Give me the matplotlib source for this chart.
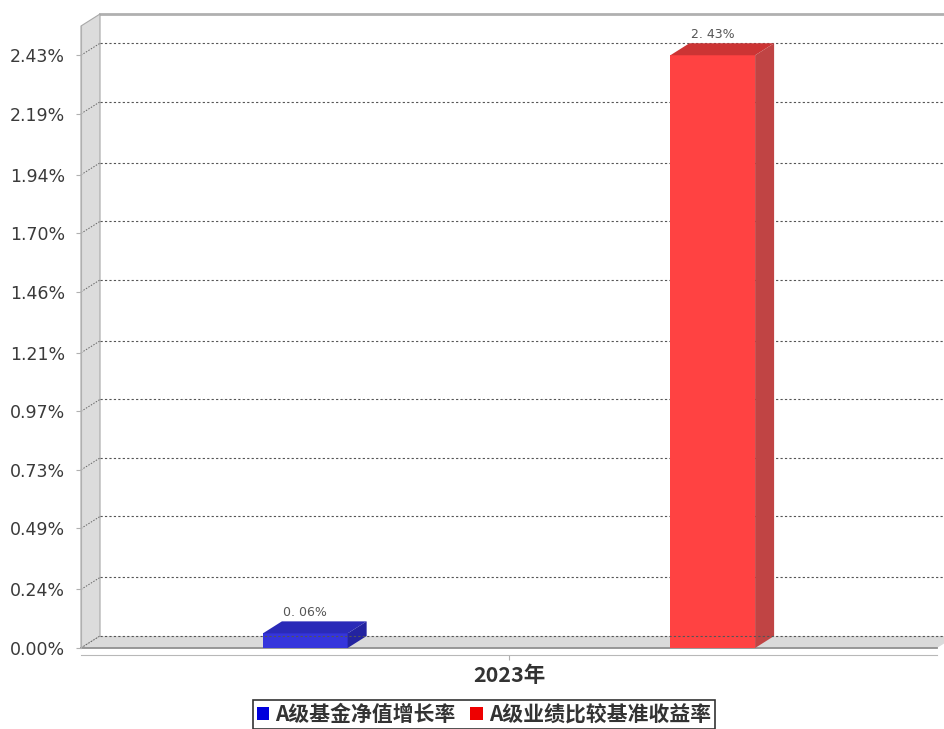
import numpy as np
import matplotlib
matplotlib.use("Agg")
import matplotlib.pyplot as plt
from matplotlib.patches import Polygon, Rectangle, Patch

# data
categories = ['2023年']
series_names = ['A级基金净值增长率', 'A级业绩比较基准收益率']
series_values = [0.06, 2.43]
value_labels = ['0. 06%', '2. 43%']
y_ticks = [0.00, 0.24, 0.49, 0.73, 0.97, 1.21, 1.46, 1.70, 1.94, 2.19, 2.43]
y_labels = ['0.00%', '0.24%', '0.49%', '0.73%', '0.97%', '1.21%', '1.46%', '1.70%', '1.94%', '2.19%', '2.43%']

front_cols = ['#3535dc', '#ff4242']
top_cols = ['#2a2ab8', '#cc3434']
side_cols = ['#2323a0', '#c04444']
legend_cols = ['#0000dd', '#ee0000']

Y_TOP = 2.55
DX = 0.0222   # depth offset in x units
DY = 0.0492   # depth offset in y units
BAR_W = 0.099
BAR_OFF = 0.238
CJK = ['Noto Sans CJK SC', 'DejaVu Sans']

fig = plt.figure(figsize=(9.45, 7.29), dpi=100)
ax = fig.add_axes([81/945, 81/729, 856/945, 622/729])
ax.set_xlim(-0.5, 0.5)
ax.set_ylim(0, Y_TOP)
ax.patch.set_visible(False)

x0, x1 = -0.5, 0.5

# back plane top border
ax.plot([x0 + DX, x1 + DX + 0.05], [Y_TOP + DY, Y_TOP + DY], color='#b0b0b0', lw=2, clip_on=False, zorder=1)

# left wall
wall = Polygon([[x0, 0], [x0 + DX, DY], [x0 + DX, Y_TOP + DY], [x0, Y_TOP]],
               closed=True, facecolor='#dcdcdc', edgecolor='#a8a8a8', lw=0.8, clip_on=False, zorder=1)
ax.add_patch(wall)

# floor
floor = Polygon([[x0, 0], [x1, 0], [x1 + DX, DY], [x0 + DX, DY]],
                closed=True, facecolor='#dadada', edgecolor='none', clip_on=False, zorder=1)
ax.add_patch(floor)
ax.plot([x0, x1], [0, 0], color='#909090', lw=1.3, clip_on=False, zorder=1.5)

# grid lines on back plane and wall
for t in y_ticks:
    z = 5 if t == 0 else 1.2
    ax.plot([x0 + DX, x1 + DX + 0.05], [t + DY, t + DY], color='#555555', lw=0.8,
            dashes=(2, 2), clip_on=False, zorder=z)
    ax.plot([x0, x0 + DX], [t, t + DY], color='#666666', lw=0.7,
            dashes=(1.5, 1.5), clip_on=False, zorder=1.3)

# 3d bars
for i, v in enumerate(series_values):
    center = (i - 0.5) * 2 * BAR_OFF
    bx = center - BAR_W / 2
    ax.add_patch(Rectangle((bx, 0), BAR_W, v, facecolor=front_cols[i], edgecolor='none', zorder=3))
    ax.add_patch(Polygon([[bx, v], [bx + BAR_W, v], [bx + BAR_W + DX, v + DY], [bx + DX, v + DY]],
                         closed=True, facecolor=top_cols[i], edgecolor='none', zorder=3, clip_on=False))
    ax.add_patch(Polygon([[bx + BAR_W, 0], [bx + BAR_W + DX, DY], [bx + BAR_W + DX, v + DY], [bx + BAR_W, v]],
                         closed=True, facecolor=side_cols[i], edgecolor='none', zorder=3, clip_on=False))
    ax.text(center, v + DY + 0.01, value_labels[i], ha='center', va='bottom',
            fontsize=9, color='#555555', clip_on=False, zorder=6)

# axes styling
for s in ['top', 'right']:
    ax.spines[s].set_visible(False)
ax.spines['left'].set_color('#b0b0b0')
ax.spines['bottom'].set_color('#b8b8b8')
ax.spines['bottom'].set_position(('outward', 5))
ax.set_yticks(y_ticks)
ax.set_yticklabels(y_labels)
ax.tick_params(axis='y', length=3.6, color='#b0b0b0', labelcolor='#3a3a3a', labelsize=12.5, pad=8)
ax.set_xticks([0])
ax.set_xticklabels(categories, family=CJK, fontweight='bold')
ax.tick_params(axis='x', length=3.6, color='#b0b0b0', labelcolor='#333333', labelsize=15.5, pad=4)

# legend
handles = [Patch(facecolor=legend_cols[i], edgecolor='none') for i in range(2)]
leg = fig.legend(handles, series_names, loc='upper center', bbox_to_anchor=(484/945, 29/729),
                 ncol=2, frameon=True, fancybox=False, edgecolor='black',
                 prop={'family': CJK, 'size': 15, 'weight': 'bold'},
                 handlelength=0.6, handleheight=0.6, handletextpad=0.3, columnspacing=0.7,
                 borderpad=0.2, borderaxespad=0)
leg.get_frame().set_linewidth(1.2)
for t in leg.get_texts():
    t.set_color('#333333')

fig.savefig('out.png', dpi=100)
